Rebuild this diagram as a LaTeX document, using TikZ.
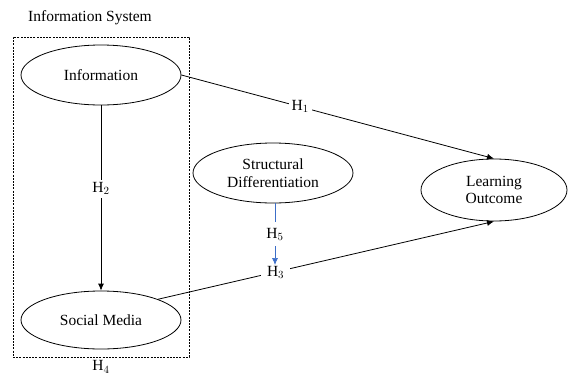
\documentclass[tikz,border=0pt]{standalone}
\usepackage{fontspec}
\setmainfont{Liberation Serif}
\usetikzlibrary{arrows.meta,shapes.geometric}
\begin{document}
\begin{tikzpicture}[x=1pt,y=-1pt,
  txt/.style={font=\fontsize{15.5}{17.5}\selectfont},
  oval/.style={draw, line width=0.8pt, ellipse, minimum width=160pt, minimum height=60pt, inner sep=0pt, align=center, txt},
  conn/.style={line width=0.8pt, -{Latex[length=7pt,width=6pt]}},
  lab/.style={fill=white, inner sep=3pt, txt}]
\useasboundingbox (0,0) rectangle (568,375);
\node[txt] (title) at (90,18) {Information System};
\node[draw, dash pattern=on 2pt off 1.2pt, line width=0.7pt, minimum width=176pt, minimum height=320pt, inner sep=0pt] (box) at (101,197) {};
\node[oval] (info) at (101,75) {Information};
\node[oval, minimum height=58pt] (sm) at (101,320) {Social Media};
\node[oval] (sd) at (273,173) {Structural\\Differentiation};
\node[oval, minimum width=146pt, minimum height=62pt] (lo) at (494,190) {Learning\\Outcome};
\node[txt] (h4) at (101,367) {H$_4$};
\draw[conn] (info.east) -- node[lab, pos=0.38] {H$_1$} (lo.north);
\draw[conn] (info.south) -- node[lab, pos=0.45] {H$_2$} (sm.north);
\draw[conn] (sm.20) -- node[lab, pos=0.35, inner xsep=6pt] {H$_3$} (lo.south);
\coordinate (h5end) at (275,265);
\draw[conn, color={rgb,255:red,60;green,110;blue,200}, line width=0.7pt] (sd.south -| h5end) -- node[lab, text=black, pos=0.5, inner ysep=6pt] {H$_5$} (h5end);
\end{tikzpicture}
\end{document}
